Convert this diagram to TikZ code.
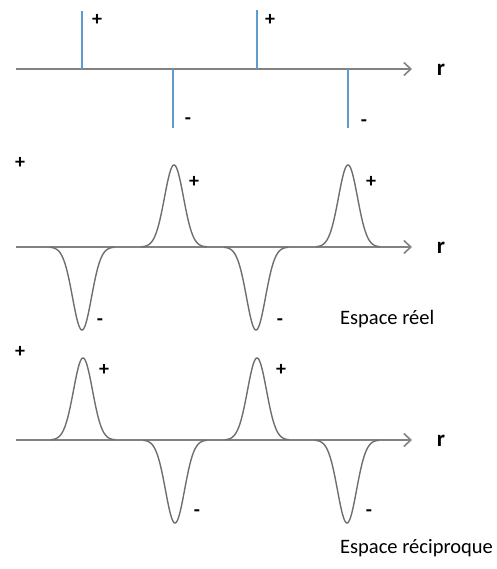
\documentclass[tikz,border=0pt]{standalone}
\usepackage{fontspec}
\setmainfont{Carlito}
\usepackage{tikz}
\usetikzlibrary{arrows.meta, positioning}
\definecolor{axisgray}{RGB}{130,130,130}
\definecolor{curvegray}{RGB}{110,110,110}
\definecolor{spikeblue}{RGB}{95,155,205}

\begin{document}
\begin{tikzpicture}[x=1pt, y=-1pt,
  axis/.style={axisgray, line width=2pt, -{Straight Barb[length=7pt, width=13pt, line width=1.6pt]}},
  spike/.style={spikeblue, line width=2pt},
  curve/.style={curvegray, line width=1.4pt},
  sign/.style={font=\fontsize{20}{22}\selectfont\bfseries, inner sep=0pt},
  axlabel/.style={font=\fontsize{23}{26}\selectfont\bfseries, inner sep=0pt},
  caption/.style={font=\fontsize{20.5}{24}\selectfont, inner sep=0pt}]
  \useasboundingbox (0,0) rectangle (496,569);
  % Panel 1 -- Dirac combs
  \coordinate (a1s) at (16,69);
  \coordinate (a1e) at (412,69);
  \draw[axis] (a1s) -- (a1e);
  \node[axlabel] (r1) at (441,70) {r};
  \coordinate (d1) at (82,69);
  \coordinate (d2) at (173,69);
  \coordinate (d3) at (257,69);
  \coordinate (d4) at (348,69);
  \draw[spike] (d1) -- ++(0,-58);
  \draw[spike] (d2) -- ++(0,59);
  \draw[spike] (d3) -- ++(0,-59);
  \draw[spike] (d4) -- ++(0,59);
  \node[sign] (p11) at (97,20) {+};
  \node[sign] (m12) at (188,121) {-};
  \node[sign] (p13) at (270,20) {+};
  \node[sign] (m14) at (364,123) {-};
  % Panel 2 -- real space
  \coordinate (a2s) at (16,247);
  \coordinate (a2e) at (412,247);
  \draw[axis] (a2s) -- (a2e);
  \node[axlabel] (r2) at (441,248) {r};
  \draw[curve] plot[domain=50:114, samples=90] (\x,{247+83*exp(-((\x-82)^2)/180)});
  \draw[curve] plot[domain=141:207, samples=90] (\x,{247-82*exp(-((\x-174)^2)/180)});
  \draw[curve] plot[domain=224:288, samples=90] (\x,{247+83*exp(-((\x-256)^2)/180)});
  \draw[curve] plot[domain=316:380, samples=90] (\x,{247-82*exp(-((\x-348)^2)/180)});
  \node[sign] (p20) at (20,163) {+};
  \node[sign] (m21) at (100,322) {-};
  \node[sign] (p22) at (194,182) {+};
  \node[sign] (m23) at (280,322) {-};
  \node[sign] (p24) at (371,182) {+};
  \node[caption, anchor=west] (reel) at (340,319) {Espace réel};
  % Panel 3 -- reciprocal space
  \coordinate (a3s) at (16,440);
  \coordinate (a3e) at (412,440);
  \draw[axis] (a3s) -- (a3e);
  \node[axlabel] (r3) at (441,441) {r};
  \draw[curve] plot[domain=51:115, samples=90] (\x,{440-82*exp(-((\x-83)^2)/180)});
  \draw[curve] plot[domain=143:207, samples=90] (\x,{440+83*exp(-((\x-175)^2)/180)});
  \draw[curve] plot[domain=225:289, samples=90] (\x,{440-82*exp(-((\x-257)^2)/180)});
  \draw[curve] plot[domain=315:379, samples=90] (\x,{440+83*exp(-((\x-347)^2)/180)});
  \node[sign] (p30) at (20,352) {+};
  \node[sign] (p31) at (104,370) {+};
  \node[sign] (m32) at (197,513) {-};
  \node[sign] (p33) at (281,370) {+};
  \node[sign] (m34) at (369,513) {-};
  \node[caption, anchor=west] (recip) at (340,548) {Espace réciproque};
\end{tikzpicture}
\end{document}
